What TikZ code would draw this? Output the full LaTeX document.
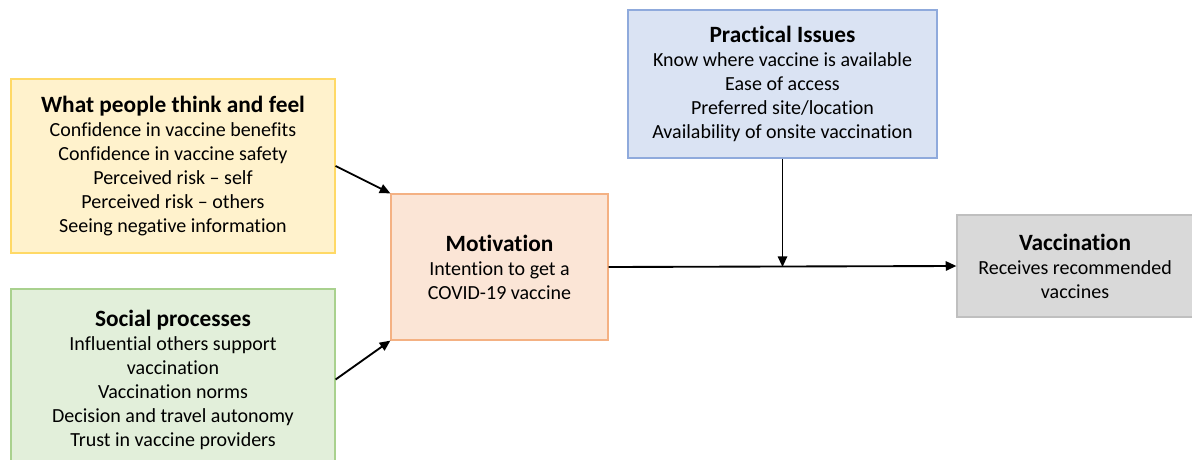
\documentclass[tikz,border=0pt]{standalone}
\usepackage{fontspec}
\setmainfont{Carlito}[RawFeature={-liga;-clig;-calt;-dlig}]
\usetikzlibrary{arrows.meta}
\definecolor{yelfill}{HTML}{FFF2CC}\definecolor{yelline}{HTML}{FFD966}
\definecolor{grnfill}{HTML}{E2EFDA}\definecolor{grnline}{HTML}{A9D18E}
\definecolor{orgfill}{HTML}{FBE5D6}\definecolor{orgline}{HTML}{F4B183}
\definecolor{blufill}{HTML}{DAE3F3}\definecolor{bluline}{HTML}{8FAADC}
\definecolor{gryfill}{HTML}{D9D9D9}\definecolor{gryline}{HTML}{BFBFBF}
\newcommand{\boxtitle}[1]{{\fontsize{17.5}{18}\selectfont\bfseries #1}}
\begin{document}
\begin{tikzpicture}[x=0.75pt,y=-0.75pt,
   factor/.style={draw=#1line,fill=#1fill,line width=0.9pt,align=center,
     inner sep=0pt,font=\fontsize{15}{18}\selectfont},
   link/.style={line width=1.4pt,-{Triangle[length=8pt,width=7pt]}}]
   \useasboundingbox (0,0) rectangle (1192,460);
   \node[factor=yel,minimum width=324*0.75pt,minimum height=174*0.75pt] (think) at (173,166)
     {\boxtitle{What people think and feel}\\Confidence in vaccine benefits\\Confidence in vaccine safety\\
      Perceived risk -- self\\Perceived risk -- others\\Seeing negative information};
   \node[factor=grn,minimum width=324*0.75pt,minimum height=181*0.75pt] (social) at (173,379.5)
     {\boxtitle{Social processes}\\Influential others support\\vaccination\\Vaccination norms\\
      Decision and travel autonomy\\Trust in vaccine providers};
   \node[factor=org,minimum width=217*0.75pt,minimum height=146*0.75pt] (motiv) at (499.5,267)
     {\boxtitle{Motivation}\\Intention to get a\\COVID-19 vaccine};
   \node[factor=blu,minimum width=309*0.75pt,minimum height=148*0.75pt] (practical) at (782.5,84)
     {\boxtitle{Practical Issues}\\Know where vaccine is available\\Ease of access\\
      Preferred site/location\\Availability of onsite vaccination};
   \node[factor=gry,minimum width=236*0.75pt,minimum height=102*0.75pt] (vacc) at (1075,266)
     {\boxtitle{Vaccination}\\Receives recommended\\vaccines};
   % arrows
   \coordinate (join) at (practical.south |- motiv.east);
   \draw[link] (think.east) -- (motiv.north west);
   \draw[link] (social.east) -- (motiv.south west);
   \draw[link] (motiv.east) -- (vacc.west);
   \draw[link] (practical.south) -- (join);
\end{tikzpicture}
\end{document}
